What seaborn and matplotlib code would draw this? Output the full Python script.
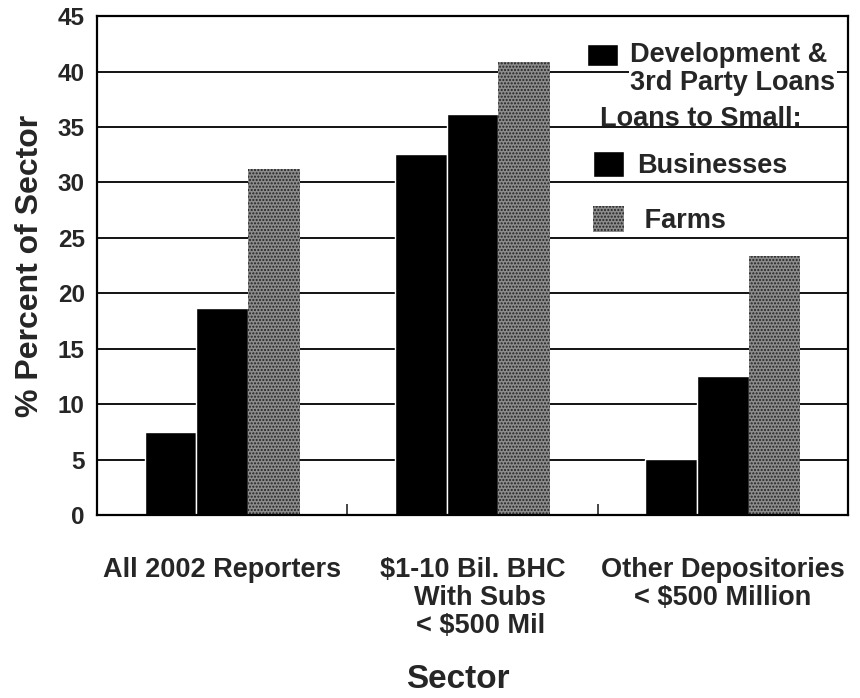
import pandas as pd
import matplotlib
matplotlib.use('Agg')
import matplotlib.pyplot as plt
from matplotlib.patches import Patch, Rectangle
from matplotlib.legend_handler import HandlerPatch
import seaborn as sns

# Werte
sectors = ['All 2002 Reporters',
           '$1-10 Bil. BHC\n  With Subs\n  < $500 Mil',
           'Other Depositories\n< $500 Million']
series = ['Development & 3rd Party Loans', 'Businesses', 'Farms']
dev_loans = [7.5, 32.6, 5.1]
business_loans = [18.7, 36.2, 12.5]
farm_loans = [31.2, 40.9, 23.4]
y_ticks = [0, 5, 10, 15, 20, 25, 30, 35, 40, 45]

df = pd.DataFrame({
    'sector': sectors * 3,
    'series': [series[0]] * 3 + [series[1]] * 3 + [series[2]] * 3,
    'value': dev_loans + business_loans + farm_loans,
})

sns.set_style('ticks')
plt.rcParams['font.family'] = ['Liberation Sans', 'DejaVu Sans']
plt.rcParams['font.weight'] = 'bold'
plt.rcParams['text.parse_math'] = False
plt.rcParams['hatch.linewidth'] = 1.0

farm_face = '#8c8c8c'
farm_dots = '#222222'
fs_leg = 19.5

fig = plt.figure(figsize=(8.6, 6.98), dpi=100)
ax = fig.add_axes([0.113, 0.262, 0.873, 0.715])

sns.barplot(data=df, x='sector', y='value', hue='series', hue_order=series,
            palette=['black', 'black', farm_face], saturation=1, width=0.62,
            legend=False, ax=ax)

# Farms-Balken gepunktet
for bar in ax.containers[2]:
    bar.set_hatch('.....')
    bar.set_edgecolor(farm_dots)
    bar.set_linewidth(0)

ax.set_ylim(0, 45)
ax.set_xlim(-0.5, 2.5)
ax.set_yticks(y_ticks)
ax.set_axisbelow(True)
ax.yaxis.grid(True, color='black', linewidth=1.3)
for s in ax.spines.values():
    s.set_visible(True)
    s.set_color('black')
    s.set_linewidth(1.6)

ax.tick_params(axis='y', length=0, pad=9, labelsize=17.5)
ax.tick_params(axis='x', length=0, pad=30, labelsize=19.5)
ax.set_xticks([0.5, 1.5], minor=True)
ax.tick_params(axis='x', which='minor', direction='in', length=8, width=1.2)
for lbl in ax.get_yticklabels() + ax.get_xticklabels():
    lbl.set_fontweight('bold')
    lbl.set_linespacing(1.1)

ax.set_ylabel('% Percent of Sector', fontsize=23, fontweight='bold', labelpad=9)
ax.set_xlabel('Sector', fontsize=24, fontweight='bold', labelpad=18)
ax.xaxis.label.set_x(0.48)


# Kästchen an der ersten Textzeile ausrichten
def top_line_patch(legend, orig_handle, xdescent, ydescent, width, height, fontsize):
    return Rectangle((-xdescent, -ydescent + 0.55 * fontsize), width, height)


leg1 = ax.legend(handles=[Patch(facecolor='black')],
                 labels=['Development &\n3rd Party Loans'],
                 loc='upper left', bbox_to_anchor=(0.652, 0.948),
                 frameon=False, borderpad=0, borderaxespad=0,
                 prop={'size': fs_leg, 'weight': 'bold'},
                 handlelength=1.15, handleheight=0.85, handletextpad=0.45,
                 handler_map={Patch: HandlerPatch(patch_func=top_line_patch)})
for t in leg1.get_texts():
    t.set_linespacing(1.1)
    t.set_bbox(dict(facecolor='white', edgecolor='none', pad=1))
ax.add_artist(leg1)

# Zwischenüberschrift, Gitterlinie darunter wirkt als Unterstreichung
ax.text(0.67, 35.1, 'Loans to Small:', transform=ax.get_yaxis_transform(),
        fontsize=fs_leg, fontweight='bold', ha='left', va='baseline')

leg2 = ax.legend(handles=[Patch(facecolor='black'),
                          Patch(facecolor=farm_face, edgecolor=farm_dots,
                                hatch='.....', linewidth=0)],
                 labels=['Businesses', ' Farms'],
                 loc='upper left', bbox_to_anchor=(0.66, 0.73),
                 frameon=False, borderpad=0, borderaxespad=0,
                 prop={'size': fs_leg, 'weight': 'bold'},
                 handlelength=1.15, handleheight=1.1, handletextpad=0.5,
                 labelspacing=1.0)

fig.savefig('out.png', dpi=100)
